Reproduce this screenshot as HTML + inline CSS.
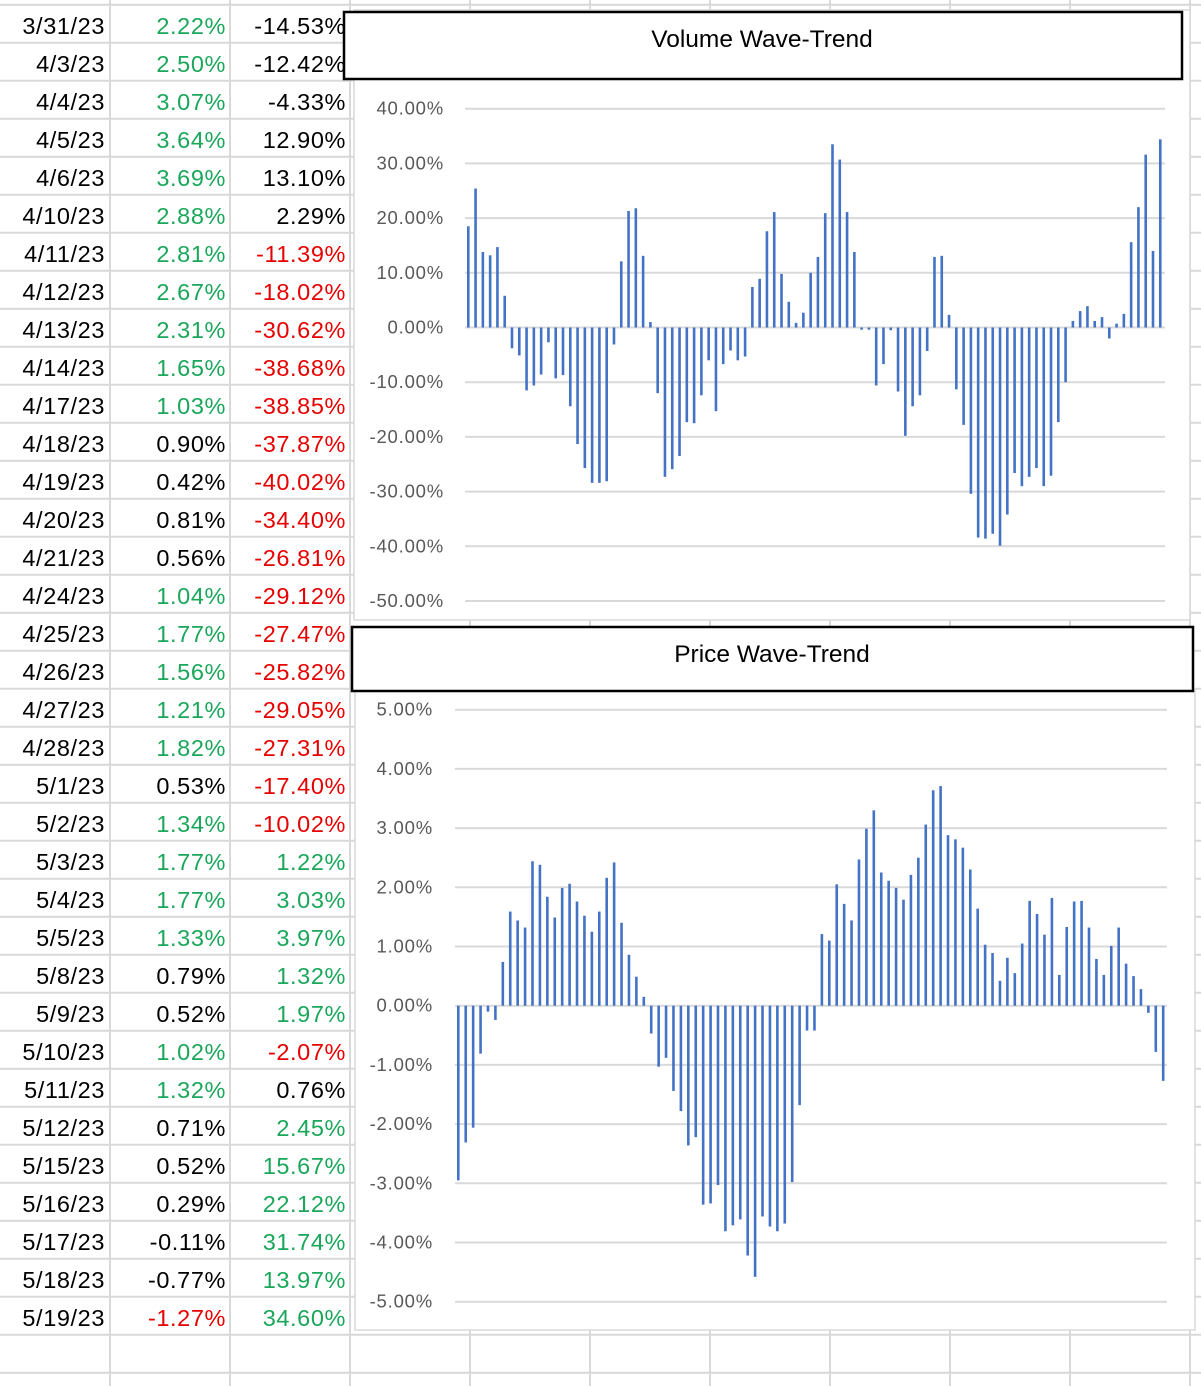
<!DOCTYPE html>
<html><head><meta charset="utf-8"><style>
html,body{margin:0;padding:0;background:#fff;}
svg{display:block;font-family:"Liberation Sans",sans-serif;}
</style></head><body>
<svg id="s" width="1201" height="1386" viewBox="0 0 1201 1386" xmlns="http://www.w3.org/2000/svg">
<g id="grid" stroke="#d9d9d9" stroke-width="2"></g>
<g id="cells" font-size="23.5" letter-spacing="0.6" text-anchor="end"></g>
<!-- volume chart -->
<rect x="354" y="10" width="836" height="610" fill="#fff" stroke="#d9d9d9" stroke-width="1.5"/>
<rect x="344" y="12" width="838" height="67" fill="#fff" stroke="#000" stroke-width="2.5"/>
<text x="762" y="47" font-size="24.5" text-anchor="middle" fill="#000">Volume Wave-Trend</text>
<g id="vgrid" stroke="#d9d9d9" stroke-width="2"></g>
<g id="vlab" font-size="18.5" letter-spacing="0.8" fill="#595959" text-anchor="end"></g>
<g id="vbars" fill="#4472c4"></g>
<!-- price chart -->
<rect x="355" y="691" width="840" height="639" fill="#fff" stroke="#d9d9d9" stroke-width="1.5"/>
<rect x="352" y="627" width="841" height="64" fill="#fff" stroke="#000" stroke-width="2.5"/>
<text x="772" y="662" font-size="24.5" text-anchor="middle" fill="#000">Price Wave-Trend</text>
<g id="pgrid" stroke="#d9d9d9" stroke-width="2"></g>
<g id="plab" font-size="18.5" letter-spacing="0.8" fill="#595959" text-anchor="end"></g>
<g id="pbars" fill="#4472c4"></g>
</svg>
<script>
var NS="http://www.w3.org/2000/svg";
function el(p,t,a,txt){var e=document.createElementNS(NS,t);for(var k in a)e.setAttribute(k,a[k]);if(txt!=null)e.textContent=txt;document.getElementById(p).appendChild(e);return e;}
for(var k=0;k<37;k++){var y=4.7+38*k;el("grid","line",{x1:0,x2:1201,y1:y,y2:y});}
[110,230,350,470,590,710,830,950,1070,1190].forEach(function(x){el("grid","line",{x1:x,x2:x,y1:0,y2:1386});});
var G="#1aa75a",R="#e60000",B="#000";
var rows=[
["3/31/23","2.22%",G,"-14.53%",B],["4/3/23","2.50%",G,"-12.42%",B],["4/4/23","3.07%",G,"-4.33%",B],
["4/5/23","3.64%",G,"12.90%",B],["4/6/23","3.69%",G,"13.10%",B],["4/10/23","2.88%",G,"2.29%",B],
["4/11/23","2.81%",G,"-11.39%",R],["4/12/23","2.67%",G,"-18.02%",R],["4/13/23","2.31%",G,"-30.62%",R],
["4/14/23","1.65%",G,"-38.68%",R],["4/17/23","1.03%",G,"-38.85%",R],["4/18/23","0.90%",B,"-37.87%",R],
["4/19/23","0.42%",B,"-40.02%",R],["4/20/23","0.81%",B,"-34.40%",R],["4/21/23","0.56%",B,"-26.81%",R],
["4/24/23","1.04%",G,"-29.12%",R],["4/25/23","1.77%",G,"-27.47%",R],["4/26/23","1.56%",G,"-25.82%",R],
["4/27/23","1.21%",G,"-29.05%",R],["4/28/23","1.82%",G,"-27.31%",R],["5/1/23","0.53%",B,"-17.40%",R],
["5/2/23","1.34%",G,"-10.02%",R],["5/3/23","1.77%",G,"1.22%",G],["5/4/23","1.77%",G,"3.03%",G],
["5/5/23","1.33%",G,"3.97%",G],["5/8/23","0.79%",B,"1.32%",G],["5/9/23","0.52%",B,"1.97%",G],
["5/10/23","1.02%",G,"-2.07%",R],["5/11/23","1.32%",G,"0.76%",B],["5/12/23","0.71%",B,"2.45%",G],
["5/15/23","0.52%",B,"15.67%",G],["5/16/23","0.29%",B,"22.12%",G],["5/17/23","-0.11%",B,"31.74%",G],
["5/18/23","-0.77%",B,"13.97%",G],["5/19/23","-1.27%",R,"34.60%",G]];
rows.forEach(function(r,i){var y=34+38*i;
el("cells","text",{x:105,y:y,fill:"#000"},r[0]);
el("cells","text",{x:226,y:y,fill:r[2]},r[1]);
el("cells","text",{x:346,y:y,fill:r[4]},r[3]);});
for(var v=40;v>=-50;v-=10){var y=327.5-v*5.47;el("vgrid","line",{x1:465,x2:1165,y1:y,y2:y});
el("vlab","text",{x:444,y:y+6},v.toFixed(2)+"%");}
var vol=[18.5,25.4,13.8,13.2,14.7,5.8,-3.8,-5.1,-11.5,-10.6,-8.6,-2.7,-9.3,-8.7,-14.4,-21.3,-25.7,-28.4,-28.4,-28.1,-3.1,12.1,21.3,21.8,13.1,1.0,-12.0,-27.3,-25.9,-23.5,-17.3,-17.5,-12.4,-6.0,-15.3,-6.7,-4.2,-6.0,-5.3,7.4,8.9,17.6,21.1,9.8,4.7,0.85,2.7,10.0,12.9,20.9,33.5,30.7,21.1,13.8,-0.4,-0.4,-10.6,-6.7,-0.5,-11.7,-19.8,-14.4,-12.4,-4.3,12.9,13.1,2.3,-11.3,-17.8,-30.4,-38.4,-38.6,-37.7,-39.9,-34.2,-26.6,-29.0,-27.3,-25.7,-29.0,-27.1,-17.3,-10.0,1.2,3.0,3.9,1.2,1.9,-2.0,0.7,2.5,15.6,22.0,31.6,14.0,34.4];
vol.forEach(function(v,i){var x=468.3+i*7.284,h=Math.abs(v)*5.47;
el("vbars","rect",{x:x-1.3,width:2.6,y:v>=0?327.5-h:327.5,height:h});});
for(var p=5;p>=-5;p--){var y=1005.7-p*59.2;el("pgrid","line",{x1:455,x2:1167,y1:y,y2:y});
el("plab","text",{x:433,y:y+6},p.toFixed(2)+"%");}
var pr=[-2.95,-2.31,-2.06,-0.81,-0.10,-0.24,0.74,1.59,1.44,1.32,2.44,2.38,1.84,1.49,1.99,2.06,1.76,1.52,1.25,1.59,2.16,2.42,1.40,0.86,0.49,0.15,-0.47,-1.03,-0.88,-1.44,-1.78,-2.36,-2.22,-3.36,-3.34,-3.03,-3.81,-3.71,-3.61,-4.22,-4.58,-3.56,-3.73,-3.81,-3.68,-2.98,-1.68,-0.42,-0.42,1.21,1.10,2.05,1.72,1.44,2.47,2.99,3.30,2.25,2.11,1.99,1.79,2.21,2.50,3.06,3.64,3.71,2.88,2.81,2.67,2.30,1.64,1.03,0.89,0.42,0.81,0.55,1.05,1.77,1.55,1.20,1.82,0.52,1.33,1.76,1.77,1.32,0.79,0.52,1.01,1.32,0.71,0.50,0.28,-0.12,-0.78,-1.27];
pr.forEach(function(v,i){var x=458.3+i*7.42,h=Math.abs(v)*59.2;
el("pbars","rect",{x:x-1.3,width:2.6,y:v>=0?1005.7-h:1005.7,height:h});});
</script>
</body></html>
